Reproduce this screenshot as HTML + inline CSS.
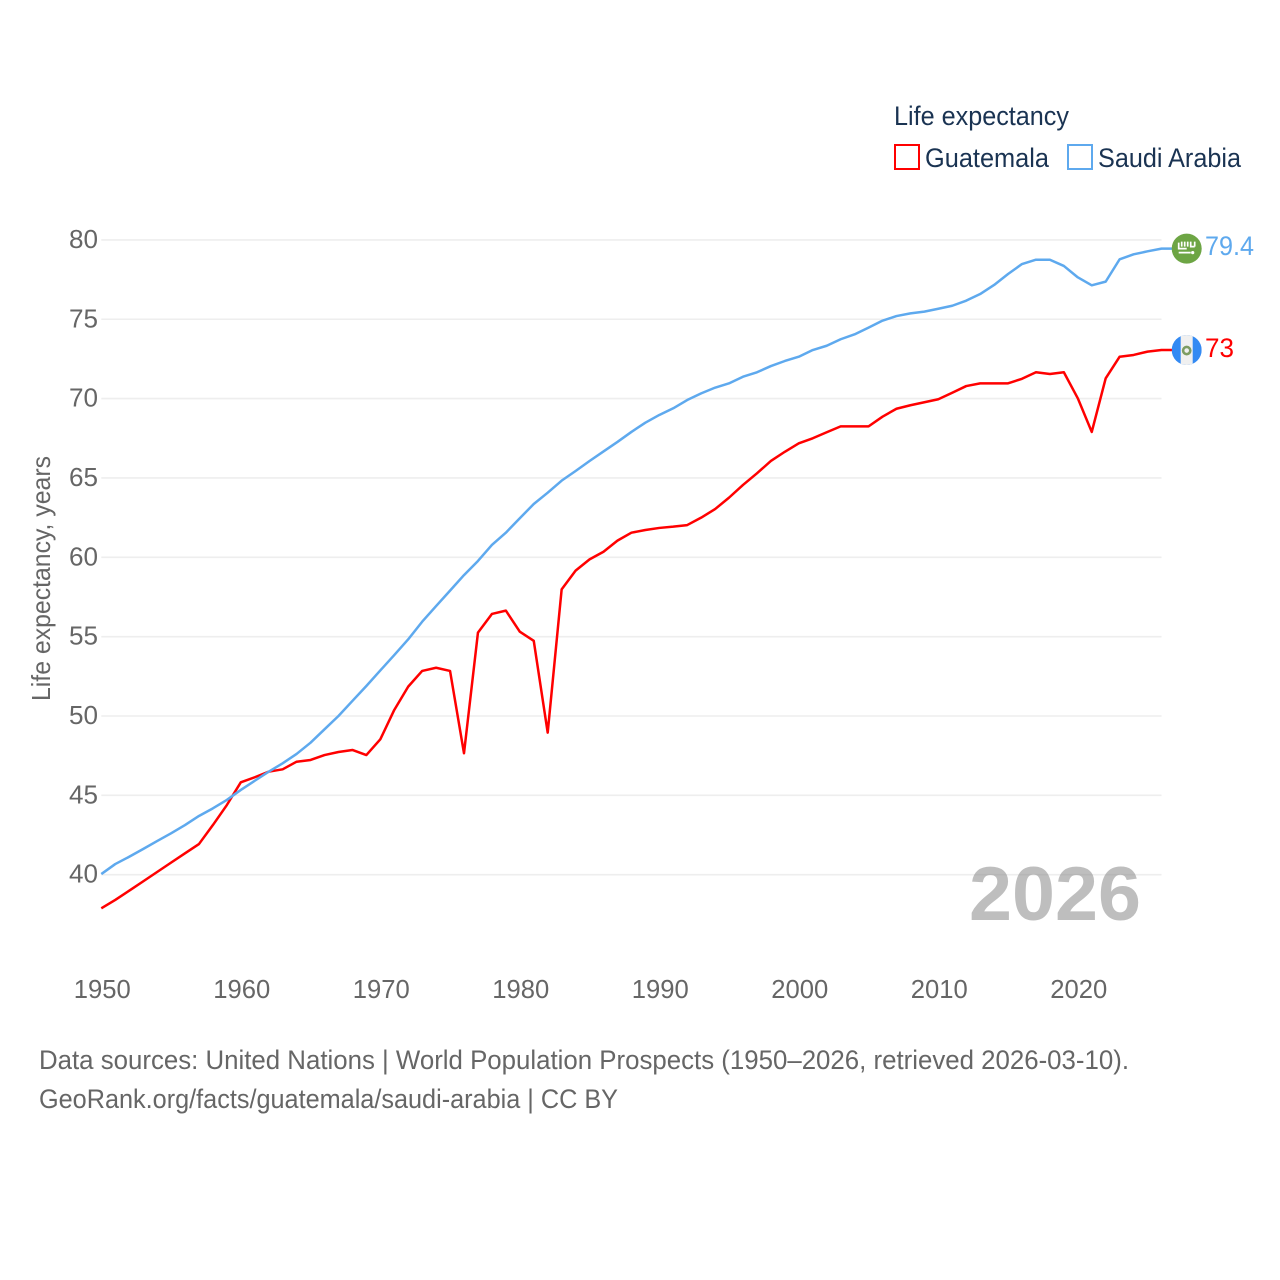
<!DOCTYPE html>
<html lang="en">
<head>
<meta charset="utf-8">
<title>Life expectancy: Guatemala and Saudi Arabia</title>
<style>
  html, body { margin: 0; padding: 0; background: #fff; }
  svg { display: block; font-family: "Liberation Sans", sans-serif; }
  .tick { fill: #666; font-size: 26px; }
  .legend { fill: #1a3352; font-size: 27px; }
  .foot { fill: #666; font-size: 27px; }
</style>
</head>
<body>
<svg id="chart" width="1280" height="1280" viewBox="0 0 1280 1280" xmlns="http://www.w3.org/2000/svg">
  <defs>
    <clipPath id="gt-clip"><circle cx="0" cy="0" r="15"></circle></clipPath>
  </defs>
  <rect x="0" y="0" width="1280" height="1280" fill="#fff"></rect>

  <g>
    <text class="legend" x="894" y="125" textLength="175" lengthAdjust="spacingAndGlyphs">Life expectancy</text>
    <g>
      <rect x="895" y="145" width="24" height="24" fill="none" stroke="#ff0000" stroke-width="2"></rect>
      <text class="legend" x="925" y="167" textLength="124" lengthAdjust="spacingAndGlyphs">Guatemala</text>
    </g>
    <g>
      <rect x="1068" y="145" width="24" height="24" fill="none" stroke="#5ea9ee" stroke-width="2"></rect>
      <text class="legend" x="1098" y="167" textLength="143" lengthAdjust="spacingAndGlyphs">Saudi Arabia</text>
    </g>
  </g>

  <g id="grid"></g>
  <text x="969" y="920" font-size="76" font-weight="700" fill="#888" fill-opacity="0.55" textLength="172" lengthAdjust="spacingAndGlyphs">2026</text>
  <g id="y-ticks"></g>
  <g id="x-ticks"></g>
  <text transform="translate(50 701) rotate(-90)" font-size="26" fill="#666" textLength="245" lengthAdjust="spacingAndGlyphs">Life expectancy, years</text>

  <g id="series"></g>

  <g id="flag-sa">
    <circle cx="0" cy="0" r="15" fill="#6da544"></circle>
    <path d="M-8-6v6h8M-5-7v5M-2-7v5M1-7v5M4-7v5h4M8-7v5M-8 4h12" fill="none" stroke="#fff" stroke-width="1.7"></path>
    <circle cx="6" cy="4" r="1.6" fill="#fff"></circle>
  </g>
  <g id="flag-gt">
    <g clip-path="url(#gt-clip)">
      <rect x="-15" y="-15" width="30" height="30" fill="#338af3"></rect>
      <rect x="-6" y="-15" width="12" height="30" fill="#f0f0f0"></rect>
      <circle cx="0" cy="0.5" r="3.6" fill="none" stroke="#7d9c62" stroke-width="2.6"></circle>
    </g>
  </g>
  <g id="end-labels"></g>

  <g>
    <text class="foot" x="39" y="1069" textLength="1090" lengthAdjust="spacingAndGlyphs">Data sources: United Nations | World Population Prospects (1950–2026, retrieved 2026-03-10).</text>
    <text class="foot" x="39" y="1108" textLength="579" lengthAdjust="spacingAndGlyphs">GeoRank.org/facts/guatemala/saudi-arabia | CC BY</text>
  </g>
</svg>

<script>
const firstYear = 1950;
const xTickYears = [1950, 1960, 1970, 1980, 1990, 2000, 2010, 2020];
const yTickValues = [40, 45, 50, 55, 60, 65, 70, 75, 80];
const guatemalaValues = [
  37.88, 38.41, 38.99, 39.58, 40.17, 40.76, 41.35, 41.93, 43.13, 44.39,
  45.82, 46.14, 46.49, 46.64, 47.12, 47.23, 47.54, 47.73, 47.86, 47.54,
  48.53, 50.38, 51.85, 52.84, 53.04, 52.84, 47.65, 55.25, 56.43, 56.64,
  55.31, 54.74, 48.95, 57.98, 59.16, 59.87, 60.35, 61.05, 61.55, 61.72,
  61.85, 61.93, 62.03, 62.5, 63.04, 63.76, 64.56, 65.29, 66.07, 66.65,
  67.18, 67.5, 67.88, 68.25, 68.25, 68.25, 68.86, 69.36, 69.58, 69.77,
  69.96, 70.37, 70.79, 70.96, 70.96, 70.96, 71.25, 71.66, 71.55, 71.66,
  70.02, 67.9, 71.28, 72.64, 72.75, 72.96, 73.06
];
const saudiValues = [
  40.04, 40.67, 41.13, 41.62, 42.12, 42.61, 43.13, 43.7, 44.18, 44.71,
  45.34, 45.92, 46.49, 47.02, 47.61, 48.32, 49.16, 50, 50.95, 51.89,
  52.87, 53.84, 54.83, 55.94, 56.93, 57.9, 58.88, 59.77, 60.78, 61.55,
  62.46, 63.36, 64.07, 64.83, 65.44, 66.07, 66.67, 67.27, 67.9, 68.48,
  68.97, 69.39, 69.91, 70.33, 70.69, 70.96, 71.38, 71.66, 72.05, 72.37,
  72.64, 73.06, 73.33, 73.74, 74.05, 74.47, 74.91, 75.2, 75.37, 75.48,
  75.66, 75.85, 76.17, 76.59, 77.16, 77.85, 78.48, 78.75, 78.75, 78.36,
  77.64, 77.14, 77.37, 78.78, 79.09, 79.28, 79.45
];
const guatemalaLabel = "73";
const saudiLabel = "79.4";

const SVG_NS = "http://www.w3.org/2000/svg";
const PLOT_LEFT = 101.3;
const PLOT_RIGHT = 1161.5;
function xScale(year) { return PLOT_LEFT + (year - 1950) * 13.95; }
function yScale(value) { return 874.7 - (value - 40) * 15.87; }
function make(tag) { return document.createElementNS(SVG_NS, tag); }

const gridGroup = document.getElementById("grid");
const yGroup = document.getElementById("y-ticks");
yTickValues.forEach(function (value) {
  const line = make("line");
  
  
  line.setAttribute("x1", PLOT_LEFT);
  line.setAttribute("x2", PLOT_RIGHT);
  line.setAttribute("y1", yScale(value));
  line.setAttribute("y2", yScale(value));
  line.setAttribute("stroke", "#eeeeee");
  line.setAttribute("stroke-width", "1.6");
  gridGroup.appendChild(line);

  const label = make("text");
  
  
  label.setAttribute("class", "tick");
  label.setAttribute("x", 69);
  label.setAttribute("y", yScale(value) + 8);
  label.setAttribute("textLength", "29");
  label.setAttribute("lengthAdjust", "spacingAndGlyphs");
  label.textContent = value;
  yGroup.appendChild(label);
});

const xGroup = document.getElementById("x-ticks");
xTickYears.forEach(function (year) {
  const label = make("text");
  
  
  label.setAttribute("class", "tick");
  label.setAttribute("x", xScale(year) - 27.5);
  label.setAttribute("y", 998);
  label.setAttribute("textLength", "57");
  label.setAttribute("lengthAdjust", "spacingAndGlyphs");
  label.textContent = year;
  xGroup.appendChild(label);
});

const seriesGroup = document.getElementById("series");
function drawSeries(values, color, name) {
  const pts = values.map(function (value, i) {
    return xScale(firstYear + i).toFixed(2) + "," + yScale(value).toFixed(2);
  });
  const lastY = yScale(values[values.length - 1]);
  pts.push("1186," + lastY.toFixed(2));
  const path = make("polyline");
  
  
  path.setAttribute("points", pts.join(" "));
  path.setAttribute("fill", "none");
  path.setAttribute("stroke", color);
  path.setAttribute("stroke-width", "2.5");
  path.setAttribute("stroke-linejoin", "round");
  seriesGroup.appendChild(path);
  return lastY;
}
const gtLastY = drawSeries(guatemalaValues, "#ff0000", "guatemala-line");
const saLastY = drawSeries(saudiValues, "#5ea9ee", "saudi-arabia-line");

document.getElementById("flag-gt").setAttribute("transform", "translate(1186.7 " + gtLastY + ")");
document.getElementById("flag-sa").setAttribute("transform", "translate(1186.7 " + saLastY + ")");

const endGroup = document.getElementById("end-labels");
const saText = make("text");


saText.setAttribute("x", 1205);
saText.setAttribute("y", saLastY + 6.5);
saText.setAttribute("font-size", "27");
saText.setAttribute("fill", "#5ea9ee");
saText.setAttribute("textLength", "49");
saText.setAttribute("lengthAdjust", "spacingAndGlyphs");
saText.textContent = saudiLabel;
endGroup.appendChild(saText);

const gtText = make("text");


gtText.setAttribute("x", 1205);
gtText.setAttribute("y", gtLastY + 7);
gtText.setAttribute("font-size", "27");
gtText.setAttribute("fill", "#ff0000");
gtText.setAttribute("textLength", "29");
gtText.setAttribute("lengthAdjust", "spacingAndGlyphs");
gtText.textContent = guatemalaLabel;
endGroup.appendChild(gtText);
</script>
</body>
</html>
